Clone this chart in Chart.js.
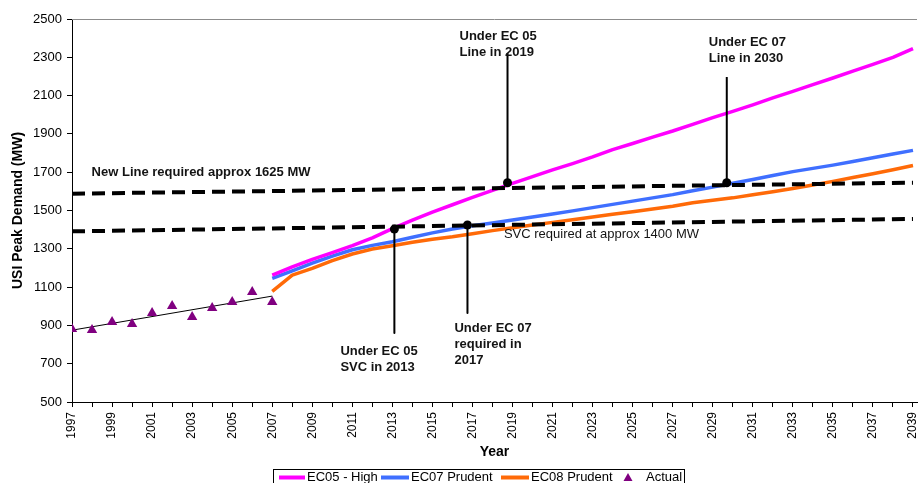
<!DOCTYPE html>
<html>
<head>
<meta charset="utf-8">
<title>USI Peak Demand</title>
<script src="https://cdn.jsdelivr.net/npm/chart.js@4.4.1/dist/chart.umd.min.js"></script>
<style>
  html, body { margin: 0; padding: 0; background: #ffffff; }
  #wrap { width: 923px; height: 483px; position: relative; }
</style>
</head>
<body>
<div id="wrap"><canvas id="chart"></canvas></div>
<script>
// ---- Data (MW) ----
const actualYears = [1997, 1998, 1999, 2000, 2001, 2002, 2003, 2004, 2005, 2006, 2007];
const actualMW    = [881, 876, 918, 907, 965, 1001, 944, 991, 1022, 1074, 1022];

// linear trend through the recorded peaks
const trendYears = [1997, 2007];
const trendMW    = [875, 1053];

const forecastYears = [2007, 2008, 2009, 2010, 2011, 2012, 2013, 2014, 2015, 2016, 2017,
  2018, 2019, 2020, 2021, 2022, 2023, 2024, 2025, 2026, 2027, 2028, 2029, 2030,
  2031, 2032, 2033, 2034, 2035, 2036, 2037, 2038, 2039];
const ec05High = [1163, 1206, 1245, 1280, 1317, 1357, 1405, 1450, 1492, 1530, 1568,
  1605, 1642, 1677, 1712, 1745, 1780, 1818, 1850, 1883, 1915, 1950, 1985, 2018,
  2052, 2088, 2122, 2157, 2192, 2228, 2263, 2300, 2345];
const ec07Prudent = [1146, 1185, 1225, 1262, 1295, 1318, 1337, 1360, 1383, 1403, 1420,
  1435, 1450, 1466, 1482, 1498, 1515, 1532, 1549, 1566, 1583, 1603, 1622, 1642,
  1662, 1683, 1703, 1720, 1737, 1756, 1775, 1795, 1814];
const ec08Prudent = [1078, 1163, 1198, 1238, 1273, 1299, 1316, 1334, 1350, 1363, 1379,
  1395, 1410, 1424, 1438, 1452, 1466, 1480, 1494, 1508, 1522, 1540, 1553, 1566,
  1582, 1598, 1615, 1633, 1652, 1672, 1692, 1713, 1735];

// capacity thresholds
const thresholdYears = [1997, 2039];
const newLineMW = [1588, 1645];
const svcMW     = [1391, 1456];

// axes
const yTicks = [500, 700, 900, 1100, 1300, 1500, 1700, 1900, 2100, 2300, 2500];
const xTickYears = [];
for (let y = 1997; y <= 2039; y++) xTickYears.push(y);

// call-outs: where each requirement is reached and where its pointer ends
const calloutYears = [2013.1, 2016.75, 2018.75, 2029.7];
const calloutMW    = [1403, 1424, 1645, 1645];
const calloutEndMW = [860, 965, 2322, 2197];
const calloutText  = [
  ["Under EC 05", "SVC in 2013"],
  ["Under EC 07", "required in", "2017"],
  ["Under EC 05", "Line in 2019"],
  ["Under EC 07", "Line in 2030"]
];
const thresholdLabels = ["New Line required approx 1625 MW", "SVC required at approx 1400 MW"];

// ---- Presentation ----
const FONT = 'Arial, "Liberation Sans", Helvetica, sans-serif';
const COLORS = { ec05: '#FF00FF', ec07: '#3F6FFF', ec08: '#FF6A08', actual: '#800080' };
// text offsets (px) from each pointer's far end; first line centre, 16px leading
const calloutLayout = [
  { dx: -54, dy: 18 },
  { dx: -13, dy: 15 },
  { dx: -48, dy: -17 },
  { dx: -18, dy: -35 }
];
const thresholdLabelPos = [
  { year: 1997.98, mw: 1701, bold: true },
  { year: 2018.57, mw: 1377, bold: false }
];

const pts = (xs, ys) => xs.map((x, i) => ({ x: x, y: ys[i] }));

const datasets = [
  {
    label: 'EC05 - High', data: pts(forecastYears, ec05High),
    borderColor: COLORS.ec05, borderWidth: 3.5, pointRadius: 0, order: 3, tension: 0
  },
  {
    label: 'EC07 Prudent', data: pts(forecastYears, ec07Prudent),
    borderColor: COLORS.ec07, borderWidth: 3.5, pointRadius: 0, order: 3, tension: 0
  },
  {
    label: 'EC08 Prudent', data: pts(forecastYears, ec08Prudent),
    borderColor: COLORS.ec08, borderWidth: 3.5, pointRadius: 0, order: 3, tension: 0
  },
  {
    label: 'Actual', data: pts(actualYears, actualMW), showLine: false,
    pointStyle: 'triangle', pointRadius: 6, pointBackgroundColor: COLORS.actual,
    pointBorderColor: COLORS.actual, pointBorderWidth: 0, order: 1
  },
  {
    label: 'Trend', data: pts(trendYears, trendMW),
    borderColor: '#000000', borderWidth: 1, pointRadius: 0, order: 2
  },
  {
    label: 'New Line threshold', data: pts(thresholdYears, newLineMW),
    borderColor: '#000000', borderWidth: 4, borderDash: [13, 7], pointRadius: 0, order: 2
  },
  {
    label: 'SVC threshold', data: pts(thresholdYears, svcMW),
    borderColor: '#000000', borderWidth: 4, borderDash: [13, 7], pointRadius: 0, order: 2
  }
];

calloutYears.forEach((yr, i) => {
  datasets.push({
    label: 'Call-out ' + (i + 1),
    data: [{ x: yr, y: calloutMW[i] }, { x: yr, y: calloutEndMW[i] }],
    borderColor: '#000000', borderWidth: 2,
    pointRadius: [4.5, 0], pointBackgroundColor: '#000000', pointBorderWidth: 0,
    order: 0
  });
});

// annotation text, plot frame and legend box
const decorations = {
  id: 'decorations',
  afterDatasetsDraw(chart) {
    const ctx = chart.ctx;
    const xs = chart.scales.x, ys = chart.scales.y;
    const area = chart.chartArea;
    ctx.save();

    // top frame edge
    ctx.strokeStyle = '#8c8c8c';
    ctx.lineWidth = 1;
    ctx.beginPath();
    ctx.moveTo(area.left, Math.round(area.top) + 0.5);
    ctx.lineTo(area.right, Math.round(area.top) + 0.5);
    ctx.stroke();

    ctx.fillStyle = '#141414';
    ctx.textAlign = 'left';
    ctx.textBaseline = 'middle';

    // threshold labels
    thresholdLabels.forEach((txt, i) => {
      const p = thresholdLabelPos[i];
      ctx.font = (p.bold ? 'bold ' : '') + '13px ' + FONT;
      ctx.fillText(txt, xs.getPixelForValue(p.year), ys.getPixelForValue(p.mw));
    });

    // call-out labels
    ctx.font = 'bold 13px ' + FONT;
    calloutText.forEach((lines, i) => {
      const px = xs.getPixelForValue(calloutYears[i]) + calloutLayout[i].dx;
      const py = ys.getPixelForValue(calloutEndMW[i]) + calloutLayout[i].dy;
      lines.forEach((ln, k) => ctx.fillText(ln, px, py + k * 16));
    });

    // legend
    const lx = 273.5, ly = 469.5;
    ctx.strokeStyle = '#000000';
    ctx.lineWidth = 1;
    ctx.strokeRect(lx, ly, 411, 30);
    ctx.font = '13px ' + FONT;
    ctx.fillStyle = '#000000';
    const rowY = 477.5;
    const items = [
      { color: COLORS.ec05, x0: 279, x1: 305, tx: 307, label: datasets[0].label },
      { color: COLORS.ec07, x0: 381, x1: 409, tx: 411, label: datasets[1].label },
      { color: COLORS.ec08, x0: 501, x1: 529, tx: 531, label: datasets[2].label }
    ];
    items.forEach(it => {
      ctx.strokeStyle = it.color;
      ctx.lineWidth = 4;
      ctx.beginPath();
      ctx.moveTo(it.x0, rowY);
      ctx.lineTo(it.x1, rowY);
      ctx.stroke();
      ctx.fillText(it.label, it.tx, rowY);
    });
    // triangle marker for the recorded peaks
    ctx.fillStyle = COLORS.actual;
    ctx.beginPath();
    ctx.moveTo(628, rowY - 4.5);
    ctx.lineTo(632.5, rowY + 3.5);
    ctx.lineTo(623.5, rowY + 3.5);
    ctx.closePath();
    ctx.fill();
    ctx.fillStyle = '#000000';
    ctx.fillText(datasets[3].label, 646, rowY);

    ctx.restore();
  }
};

new Chart(document.getElementById('chart'), {
  type: 'line',
  data: { datasets: datasets },
  options: {
    responsive: true,
    maintainAspectRatio: false,
    animation: false,
    layout: { padding: { top: 19, right: 0, bottom: 0, left: 0 } },
    plugins: { legend: { display: false }, tooltip: { enabled: false } },
    elements: { line: { borderCapStyle: 'butt', borderJoinStyle: 'round' } },
    scales: {
      x: {
        type: 'linear',
        min: 1997,
        max: 2039.2,
        afterBuildTicks(scale) { scale.ticks = xTickYears.map(v => ({ value: v })); },
        afterFit(scale) { scale.height = 81; scale.paddingLeft = 0; scale.paddingRight = 0; },
        ticks: {
          autoSkip: false, minRotation: 90, maxRotation: 90, padding: 5,
          color: '#000000', font: { family: FONT, size: 12 },
          callback: v => (v % 2 === 1 ? String(v) : '')
        },
        grid: { drawOnChartArea: false, drawTicks: true, tickLength: 5, color: '#000000' },
        border: { display: true, color: '#000000', width: 1 },
        title: {
          display: true, text: 'Year', color: '#000000',
          font: { family: FONT, size: 14, weight: 'bold' },
          padding: { top: 0, bottom: 22.6 }
        }
      },
      y: {
        min: 500,
        max: 2500,
        afterBuildTicks(scale) { scale.ticks = yTicks.map(v => ({ value: v })); },
        afterFit(scale) { scale.width = 72; scale.paddingTop = 0; scale.paddingBottom = 0; },
        ticks: {
          padding: 5, color: '#000000', font: { family: FONT, size: 13 },
          callback: v => String(v)
        },
        grid: { drawOnChartArea: false, drawTicks: true, tickLength: 5, color: '#000000' },
        border: { display: true, color: '#000000', width: 1 },
        title: {
          display: true, text: 'USI Peak Demand (MW)', color: '#000000',
          font: { family: FONT, size: 14, weight: 'bold' },
          padding: { top: 9.5, bottom: 0 }
        }
      }
    }
  },
  plugins: [decorations]
});
</script>
</body>
</html>
